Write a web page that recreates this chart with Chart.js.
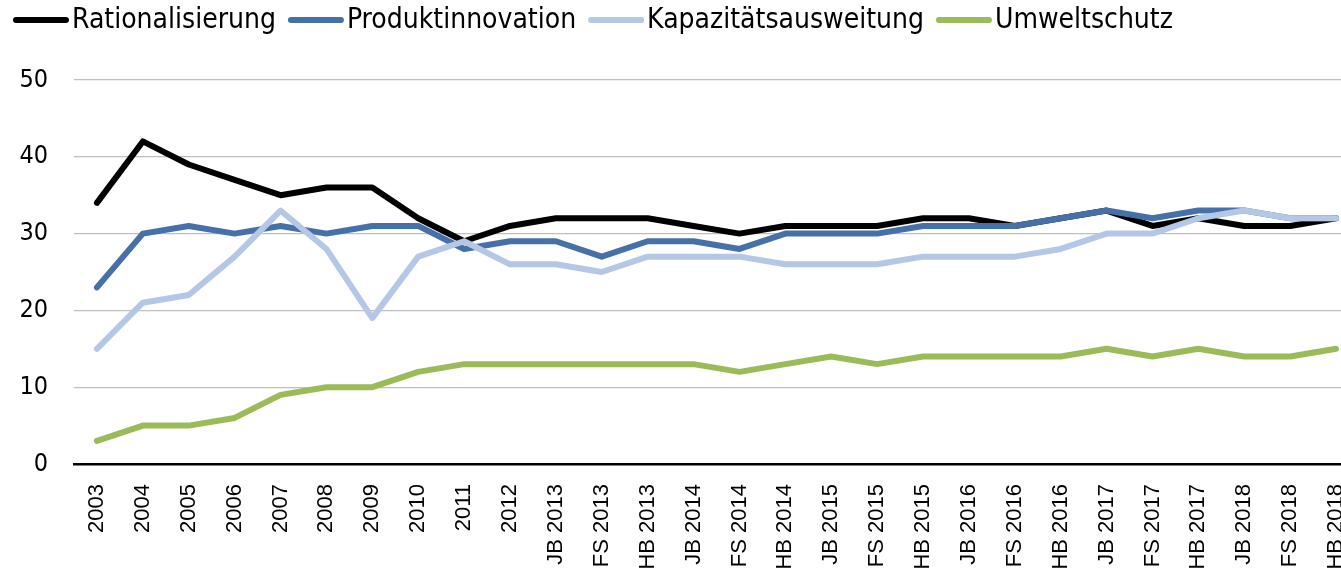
<!DOCTYPE html>
<html>
<head>
<meta charset="utf-8">
<script src="https://cdn.jsdelivr.net/npm/chart.js@4/dist/chart.umd.min.js"></script>
<style>
html,body{margin:0;padding:0;background:#fff;overflow:hidden;width:1341px;height:570px;}
#wrap{position:absolute;left:0;top:0;width:1360px;height:570px;}
</style>
</head>
<body>
<div id="wrap"><canvas id="c" width="1360" height="570"></canvas></div>
<script>
const categories = ["2003","2004","2005","2006","2007","2008","2009","2010","2011","2012",
  "JB 2013","FS 2013","HB 2013","JB 2014","FS 2014","HB 2014","JB 2015","FS 2015","HB 2015",
  "JB 2016","FS 2016","HB 2016","JB 2017","FS 2017","HB 2017","JB 2018","FS 2018","HB 2018"];
const seriesNames = ["Rationalisierung","Produktinnovation","Kapazitätsausweitung","Umweltschutz"];
const rationalisierung = [34,42,39,37,35,36,36,32,29,31,32,32,32,31,30,31,31,31,32,32,31,32,33,31,32,31,31,32];
const produktinnovation = [23,30,31,30,31,30,31,31,28,29,29,27,29,29,28,30,30,30,31,31,31,32,33,32,33,33,32,32];
const kapazitaet = [15,21,22,27,33,28,19,27,29,26,26,25,27,27,27,26,26,26,27,27,27,28,30,30,32,33,32,32];
const umweltschutz = [3,5,5,6,9,10,10,12,13,13,13,13,13,13,12,13,14,13,14,14,14,14,15,14,15,14,14,15];
const yTicks = [0,10,20,30,40,50];

const colors = ["#000000","#4571A8","#B4C7E7","#9BBB59"];
const values = [rationalisierung, produktinnovation, kapazitaet, umweltschutz];

const legendPlugin = {
  id: 'customLegend',
  afterDraw(chart) {
    const ctx = chart.ctx;
    ctx.save();
    ctx.font = '28px "DejaVu Sans Condensed"';
    ctx.textBaseline = 'middle';
    ctx.textAlign = 'left';
    let a = 13;
    const y = 20;
    chart.data.datasets.forEach(ds => {
      ctx.strokeStyle = ds.borderColor;
      ctx.lineWidth = 6;
      ctx.lineCap = 'round';
      ctx.beginPath();
      ctx.moveTo(a + 3, y);
      ctx.lineTo(a + 56 - 3, y);
      ctx.stroke();
      ctx.fillStyle = '#000';
      ctx.fillText(ds.label, a + 59, y + 1);
      a = a + 59 + ctx.measureText(ds.label).width + 12;
    });
    ctx.restore();
  }
};

new Chart(document.getElementById('c'), {
  type: 'line',
  data: {
    labels: categories,
    datasets: seriesNames.map((n, i) => ({
      label: n,
      data: values[i],
      borderColor: colors[i],
      backgroundColor: colors[i],
      borderWidth: 6,
      pointRadius: 0,
      tension: 0,
      borderCapStyle: 'round',
      borderJoinStyle: 'round',
      order: 4 - i,
      clip: false
    }))
  },
  options: {
    responsive: false,
    animation: false,
    events: [],
    layout: { padding: { top: 80, right: 1, left: 0, bottom: 0 } },
    plugins: { legend: { display: false }, tooltip: { enabled: false } },
    scales: {
      x: {
        offset: true,
        grid: { display: false, drawTicks: false },
        border: { display: true, color: '#000', width: 2.5 },
        ticks: {
          autoSkip: false, maxRotation: 90, minRotation: 90, padding: 20,
          color: '#000', font: { family: '"Liberation Sans", Arial', size: 22 }
        },
        afterFit(s) { s.height = 106; s.paddingLeft = 0; s.paddingRight = 0; }
      },
      y: {
        min: 0, max: 50,
        afterBuildTicks(s) { s.ticks = yTicks.map(v => ({ value: v })); },
        grid: { color: (c) => c.tick && c.tick.value === 0 ? 'rgba(0,0,0,0)' : '#BFBFBF', lineWidth: 1.3, drawTicks: false },
        border: { display: false },
        ticks: {
          padding: 26, color: '#000',
          font: { family: '"DejaVu Sans Condensed"', size: 25 }
        },
        afterFit(s) { s.width = 74; s.paddingTop = 0; s.paddingBottom = 0; }
      }
    }
  },
  plugins: [legendPlugin]
});
</script>
</body>
</html>
